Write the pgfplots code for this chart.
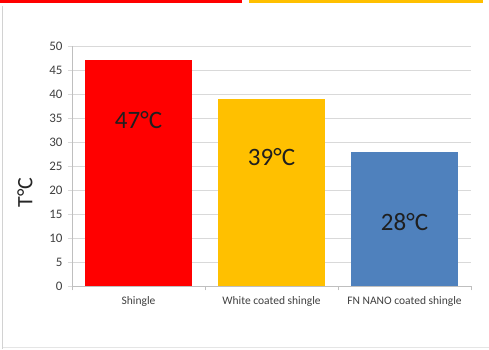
\documentclass[border=0pt]{standalone}
\usepackage{pgfplots}
\pgfplotsset{compat=1.18}
\usepackage{fontspec}
\setmainfont{Carlito}
\definecolor{barred}{HTML}{FF0000}
\definecolor{baryellow}{HTML}{FFC000}
\definecolor{barblue}{HTML}{4F81BD}
\definecolor{gridgray}{HTML}{D9D9D9}
\definecolor{axisgray}{HTML}{BFBFBF}
\definecolor{textgray}{HTML}{404040}
\begin{document}
\begin{tikzpicture}[x=1pt,y=1pt]
% slide frame
\path[use as bounding box, fill=white] (0,0) rectangle (489,349);
\fill[barred] (0,346) rectangle (242,349);
\fill[baryellow] (249,346) rectangle (483,349);
\draw[gray!35, line width=1.3pt] (2.5,0) -- (2.5,343);
\draw[gray!20, line width=0.8pt] (2.5,1.5) -- (489,1.5);
\begin{axis}[
  at={(72pt,63pt)}, anchor=south west,
  scale only axis, width=399pt, height=240pt,
  ymin=0, ymax=50, xmin=-0.5, xmax=2.5,
  ytick={0,5,...,50},
  xtick={0,1,2},
  xticklabels={Shingle, White coated shingle, FN NANO coated shingle},
  x tick style={draw=none},
  extra x ticks={-0.5,0.5,1.5,2.5},
  extra x tick labels={},
  extra x tick style={x tick style={draw=axisgray}, major tick length=4pt, tick align=outside},
  axis x line*=bottom, axis y line*=left,
  axis line style={axisgray, -},
  ymajorgrids, grid style={gridgray, line width=0.8pt},
  y tick style={draw=gridgray},
  tick align=outside, major tick length=4pt,
  /pgf/number format/assume math mode=true,
  tick label style={text=textgray},
  yticklabel style={font=\fontsize{13}{13}\selectfont, xshift=-2pt},
  xticklabel style={font=\fontsize{11.5}{11.5}\selectfont, yshift=-3pt},
  ylabel={T°C},
  ylabel style={font=\fontsize{22}{22}\selectfont, text=black!85,
    at={(axis description cs:-0.118,0.39)}, anchor=center},
  ybar, bar width=107pt,
]
\addplot[fill=barred, draw=none, bar shift=0pt] coordinates {(0,47)};
\addplot[fill=baryellow, draw=none, bar shift=0pt] coordinates {(1,39)};
\addplot[fill=barblue, draw=none, bar shift=0pt] coordinates {(2,28)};
\node[font=\fontsize{25}{25}\selectfont, text=black!88] at (axis cs:0,34.6) {47°C};
\node[font=\fontsize{25}{25}\selectfont, text=black!88] at (axis cs:1,26.9) {39°C};
\node[font=\fontsize{25}{25}\selectfont, text=black!88] at (axis cs:2,13.3) {28°C};
\end{axis}
\end{tikzpicture}
\end{document}
